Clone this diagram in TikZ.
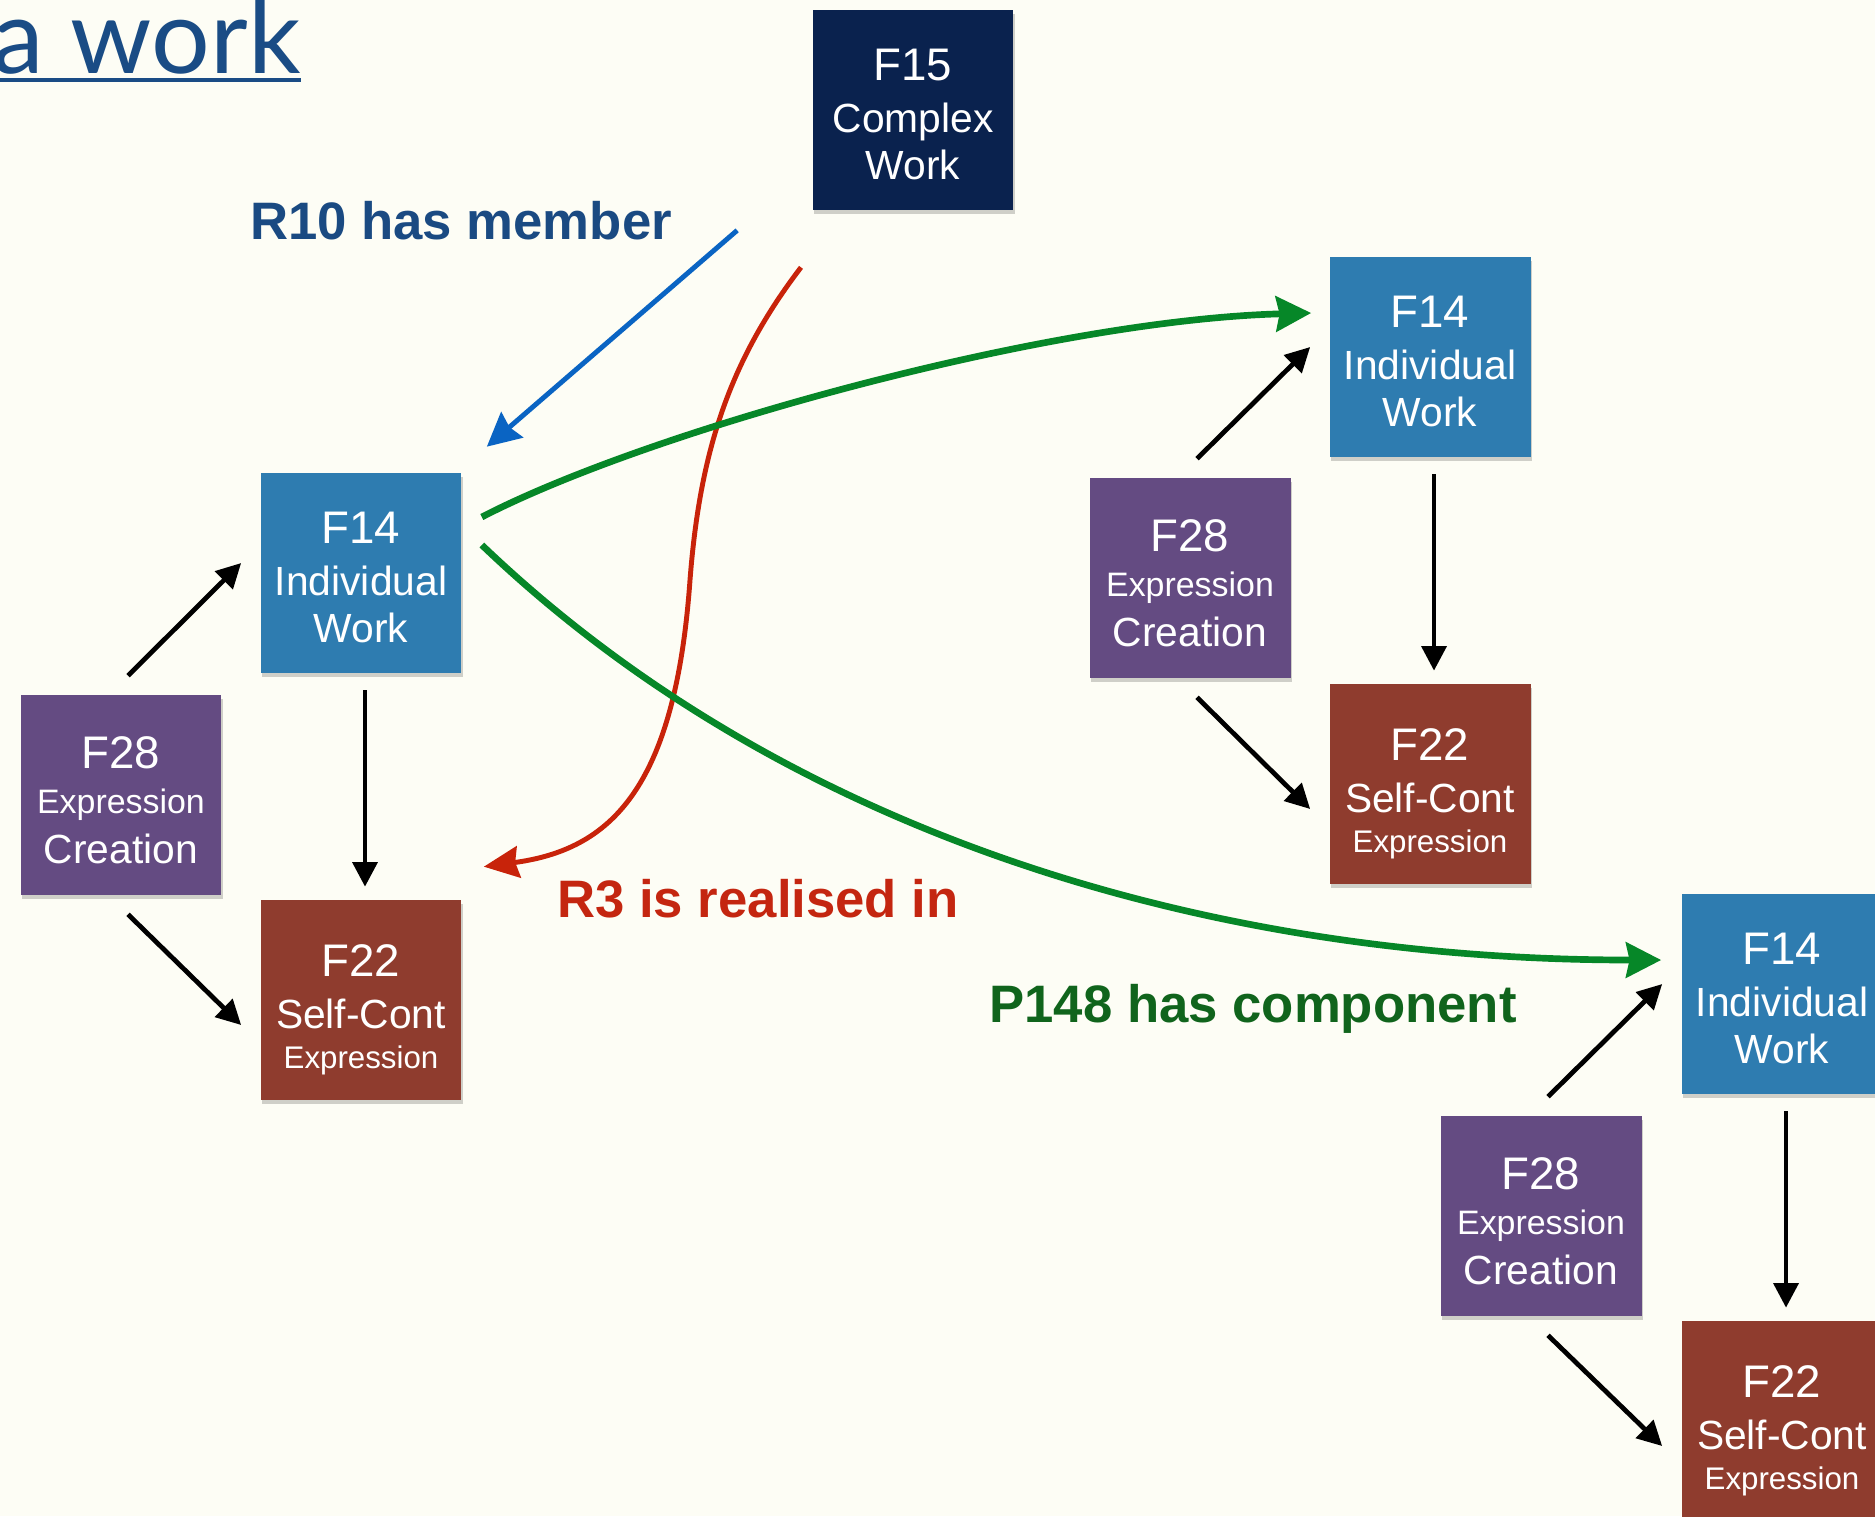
\documentclass[tikz,border=0pt]{standalone}
\usepackage{fontspec}
\setmainfont{Liberation Sans}
\newfontfamily\titlefont{Lato}
\usetikzlibrary{arrows.meta,calc,shadows}
\definecolor{bgcol}{RGB}{253,253,245}
\definecolor{workblue}{RGB}{46,124,176}
\definecolor{creapurple}{RGB}{100,75,130}
\definecolor{exprred}{RGB}{143,60,46}
\definecolor{complexnavy}{RGB}{10,34,78}
\definecolor{titleblue}{RGB}{26,76,133}
\definecolor{memberblue}{RGB}{10,100,195}
\definecolor{memberlabel}{RGB}{26,74,130}
\definecolor{realred}{RGB}{200,35,10}
\definecolor{reallabel}{RGB}{196,38,16}
\definecolor{compgreen}{RGB}{6,135,40}
\definecolor{complabel}{RGB}{16,100,28}
\tikzset{
  fbox/.style={rectangle, minimum width=4.02cm, minimum height=4.0cm, inner sep=0pt, draw=none,
    drop shadow={shadow xshift=1pt, shadow yshift=-2pt, opacity=0.18, fill=black}},
  ln/.style={anchor=base, text=white, inner sep=0pt},
  lbl/.style={anchor=base, font=\bfseries\fontsize{30}{30}\selectfont, inner sep=0pt},
  blk/.style={draw=black, line width=2.7pt, -{Triangle[length=14pt, width=14pt]}},
  grn/.style={draw=compgreen, line width=3.8pt, -{Stealth[length=20pt, width=20pt, inset=2pt]}},
  redc/.style={draw=realred, line width=2.8pt, -{Stealth[length=20pt, width=18pt, inset=2pt]}},
  blu/.style={draw=memberblue, line width=2.8pt, -{Stealth[length=19pt, width=19pt, inset=2pt]}},
}
\newcommand{\workbox}[7]{%
  \node[fbox, fill=#4] (#1) at (#2,#3) {};
  \node[ln, font=\fontsize{26}{26}\selectfont] (#1-a) at ($(#1.north)+(0,71)$) {#5};
  \node[ln, font=\fontsize{23.2}{23.2}\selectfont] (#1-b) at ($(#1.north)+(0,123)$) {#6};
  \node[ln, font=\fontsize{23.2}{23.2}\selectfont] (#1-c) at ($(#1.north)+(0,170)$) {#7};
}
\newcommand{\creabox}[3]{%
  \node[fbox, fill=creapurple] (#1) at (#2,#3) {};
  \node[ln, font=\fontsize{26}{26}\selectfont] (#1-a) at ($(#1.north)+(0,74)$) {F28};
  \node[ln, font=\fontsize{19.3}{19.3}\selectfont] (#1-b) at ($(#1.north)+(0,119)$) {Expression};
  \node[ln, font=\fontsize{23.2}{23.2}\selectfont] (#1-c) at ($(#1.north)+(0,169)$) {Creation};
}
\newcommand{\exprbox}[3]{%
  \node[fbox, fill=exprred] (#1) at (#2,#3) {};
  \node[ln, font=\fontsize{26}{26}\selectfont] (#1-a) at ($(#1.north)+(0,77)$) {F22};
  \node[ln, font=\fontsize{23.2}{23.2}\selectfont] (#1-b) at ($(#1.north)+(0,129)$) {Self-Cont};
  \node[ln, font=\fontsize{17.8}{17.8}\selectfont] (#1-c) at ($(#1.north)+(0,169)$) {Expression};
}
\begin{document}
\begin{tikzpicture}[x=0.02cm, y=-0.02cm]
\useasboundingbox (0,0) rectangle (1875,1516);
\fill[bgcol] (0,0) rectangle (1875,1516);

% title (cut off at the left edge, as in the reference)
\node[anchor=base east, text=titleblue, font=\titlefont\fontsize{59}{59}\selectfont, inner sep=0pt] (title) at (301,73) {a work};
\draw[titleblue, line width=2.3pt] ($(title.base west)+(0,7)$) -- ($(title.base east)+(0,7)$);

% boxes
\workbox{F15}{913}{110}{complexnavy}{F15}{Complex}{Work}
\workbox{L14}{361}{573}{workblue}{F14}{Individual}{Work}
\creabox{L28}{121}{795}
\exprbox{L22}{361}{1000}
\workbox{R14}{1430}{357}{workblue}{F14}{Individual}{Work}
\creabox{R28}{1190}{578}
\exprbox{R22}{1430}{784}
\workbox{B14}{1782}{994}{workblue}{F14}{Individual}{Work}
\creabox{B28}{1541}{1216}
\exprbox{B22}{1782}{1421}

% labels
\node[lbl, text=memberlabel] (r10) at (461,239) {R10 has member};
\node[lbl, text=reallabel] (r3) at (758,917) {R3 is realised in};
\node[lbl, text=complabel] (p148) at (1253,1022) {P148 has component};

% R3 is realised in
\coordinate (rmid) at (690,580);
\draw[redc] ($(F15.south)+(-112,57)$) .. controls +(-71,93) and +(10,-130) .. (rmid)
  .. controls +(-15,210) and +(126,-17) .. ($(L22.north east)+(22,-33)$);

% P148 has component
\draw[grn] ($(L14.east)+(20,-56)$) .. controls +(168,-87) and +(-262,7) .. ($(R14.west)+(-18,-44)$);
\draw[grn] ($(L14.east)+(20,-28)$) .. controls +(298,285) and +(-461,0) .. ($(B14.west)+(-20,-34)$);

% R10 has member
\draw[blu] ($(F15.south west)+(-75,20)$) -- ($(L14.north east)+(25,-26)$);

% black arrows
\foreach \c/\w/\e in {L28/L14/L22, R28/R14/R22, B28/B14/B22}{
  \draw[blk] ($(\c.north)+(7,-19)$) -- ($(\w.west)+(-19,-10)$);
  \draw[blk] ($(\c.south)+(7,19)$) -- ($(\e.west)+(-19,25)$);
  \draw[blk] ($(\w.south)+(4,17)$) -- ($(\e.north)+(4,-13)$);
}
\end{tikzpicture}
\end{document}
